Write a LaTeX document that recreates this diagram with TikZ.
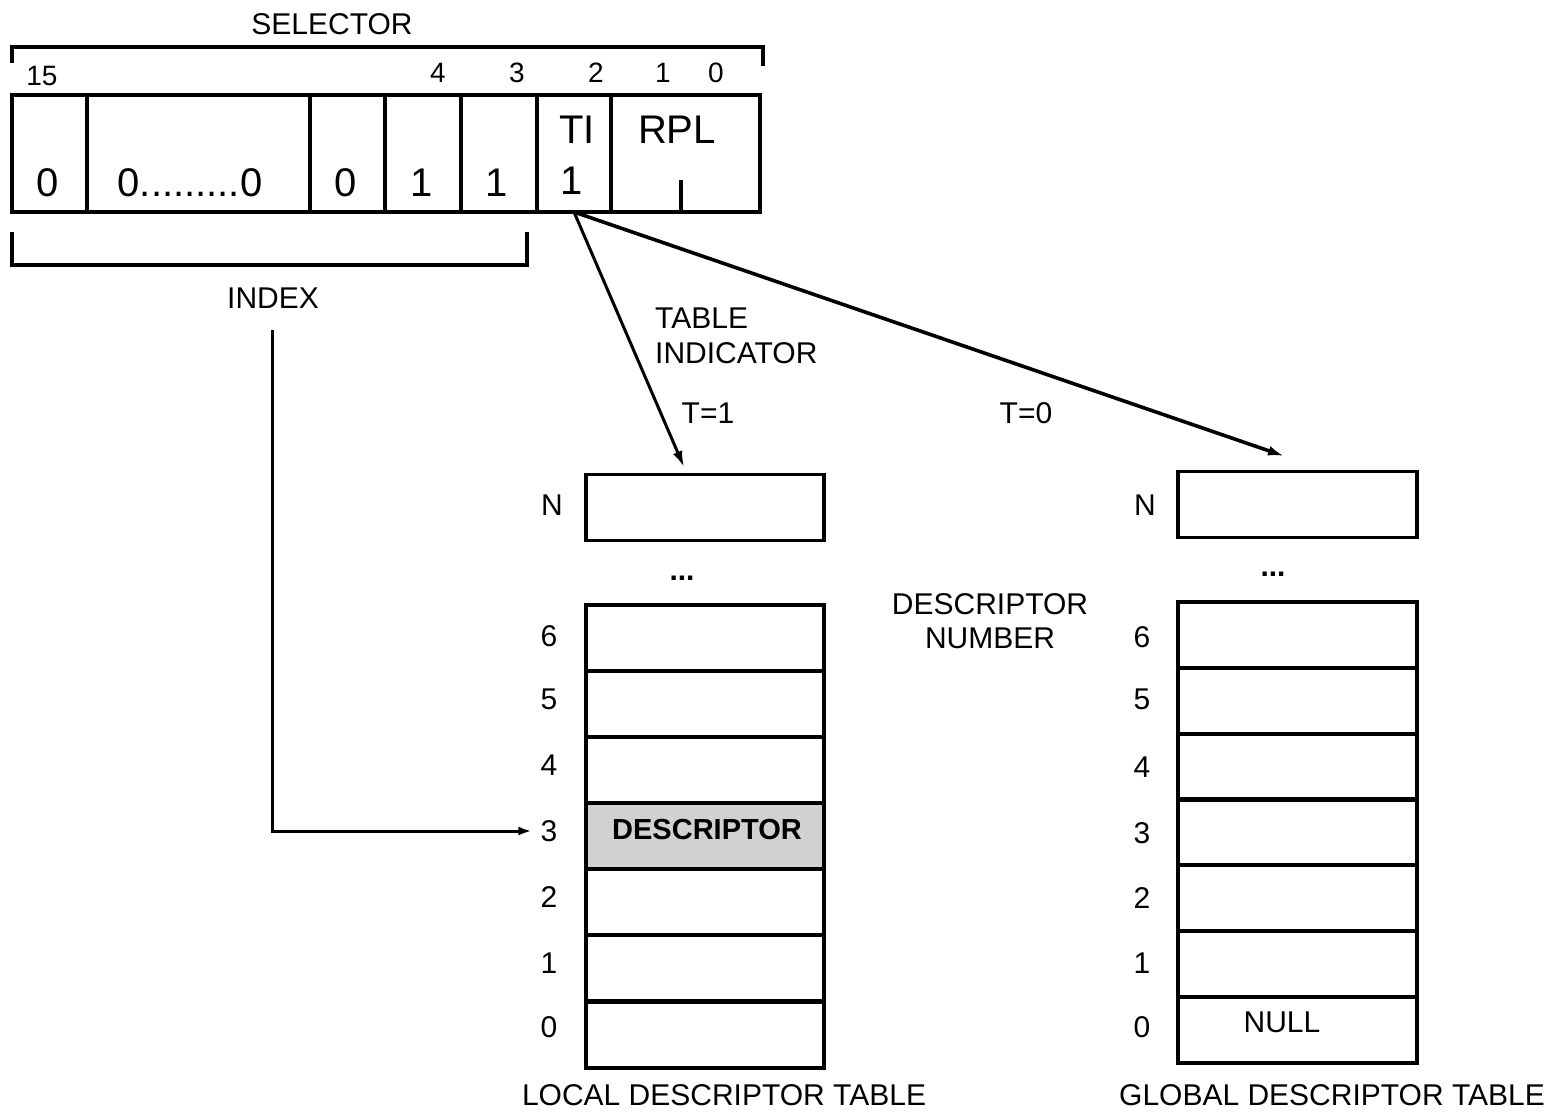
\documentclass[tikz,border=0pt]{standalone}
\usepackage{fontspec}
\setmainfont{Liberation Sans}
\usetikzlibrary{arrows.meta}
\begin{document}
\begin{tikzpicture}[x=1pt,y=-1pt,
  lbl/.style={font=\fontsize{30}{36}\selectfont, inner sep=0pt},
  sm/.style={font=\fontsize{28}{32}\selectfont, inner sep=0pt},
  big/.style={font=\fontsize{40}{46}\selectfont, inner sep=0pt},
  ln/.style={line width=3.2pt},
  cell/.style={draw, line width=3.2pt, inner sep=0pt, outer sep=0pt, minimum height=117pt},
  row/.style={draw, line width=3.2pt, inner sep=0pt, outer sep=0pt, minimum width=238pt, minimum height=66pt},
  arr/.style={line width=3pt, -{Latex[length=16pt,width=10pt]}}]
\useasboundingbox (0,0) rectangle (1561,1112);

% ---- selector
\node[lbl] (sel) at (332,24) {SELECTOR};
\draw[ln] (12,63) -- (12,47) -- (763,47) -- (763,66);
\node[sm] (b15) at (42,76) {15};
\node[sm] (b4) at (438,73) {4};
\node[sm] (b3) at (517,73) {3};
\node[sm] (b2) at (596,73) {2};
\node[sm] (b1) at (663,73) {1};
\node[sm] (b0) at (716,73) {0};

\node[cell, minimum width=75pt]  (c15) at (49.5,153.5) {};
\node[cell, minimum width=223pt] (cmid) at (198.5,153.5) {};
\node[cell, minimum width=75pt]  (c5) at (347.5,153.5) {};
\node[cell, minimum width=76pt]  (c4) at (423,153.5) {};
\node[cell, minimum width=76pt]  (c3) at (499,153.5) {};
\node[cell, minimum width=74pt]  (ti) at (574,153.5) {};
\node[cell, minimum width=149pt] (rpl) at (685.5,153.5) {};

\node[big] (v15) at (48,183) {0};
\node[big] (vmid) at (190,183) {0.........0};
\node[big] (v5) at (346,183) {0};
\node[big] (v4) at (422,183) {1};
\node[big] (v3) at (497,183) {1};
\node[big] (vti) at (572,181) {1};
\node[big] (tti) at (577,130) {TI};
\node[big] (trpl) at (677,130) {RPL};
\draw[ln] (681,180) -- (rpl.south -| 681,0);

% ---- index bracket
\draw[ln] (12,232) -- (12,265) -- (527,265) -- (527,232);
\node[lbl] (index) at (273,298) {INDEX};

% ---- LDT
\node[row] (ln) at (705,507.5) {};
\node[lbl] (lnl) at (552,505) {N};
\node[lbl, font=\bfseries\fontsize{30}{36}\selectfont] (ldots) at (682,578) {...};
\foreach \i/\y in {6/638,5/704,4/770,3/836,2/902,1/968,0/1035}{
  \node[row] (l\i) at (705,\y) {};
}
\node[row, fill=black!18] (l3) at (705,836) {};
\node[lbl, font=\bfseries\fontsize{29}{36}\selectfont] (desc) at (707,830) {DESCRIPTOR};
\foreach \i/\y in {6/636,5/699,4/765,3/831,2/897,1/963,0/1027}{
  \node[lbl] (ll\i) at (549,\y) {\i};
}
\node[lbl] (ldt) at (724,1095) {LOCAL DESCRIPTOR TABLE};

% ---- GDT
\node[row, minimum width=239pt] (gn) at (1297.5,504.5) {};
\node[lbl] (gnl) at (1145,505) {N};
\node[lbl, font=\bfseries\fontsize{30}{36}\selectfont] (gdots) at (1273,574) {...};
\foreach \i/\y in {6/635,5/701,4/767,3/832,2/898,1/964,0/1030}{
  \node[row, minimum width=239pt] (g\i) at (1297.5,\y) {};
}
\foreach \i/\y in {6/637,5/699,4/767,3/833,2/898,1/963,0/1027}{
  \node[lbl] (gl\i) at (1142,\y) {\i};
}
\node[lbl] (null) at (1282,1022) {NULL};
\node[lbl] (gdt) at (1332,1095) {GLOBAL DESCRIPTOR TABLE};

% ---- labels
\node[lbl, align=left, anchor=west, font=\fontsize{30}{35}\selectfont] (tind) at (655,336) {TABLE\\INDICATOR};
\node[lbl] (t1) at (708,413) {T=1};
\node[lbl] (t0) at (1026,413) {T=0};
\node[lbl, align=center, font=\fontsize{30}{34}\selectfont] (dnum) at (990,621) {DESCRIPTOR\\NUMBER};

% ---- connectors
\coordinate (ldtin) at (684,467);
\coordinate (gdtin) at (1284,456);
\draw[arr] (ti.south) -- (ldtin);
\draw[arr, line width=3.6pt] (ti.south) -- (gdtin);
\coordinate (idxtop) at (272,330);
\draw[line width=3pt, -{Latex[length=13pt,width=9pt]}] (idxtop) |- ([xshift=-9pt]ll3.west);
\end{tikzpicture}
\end{document}
